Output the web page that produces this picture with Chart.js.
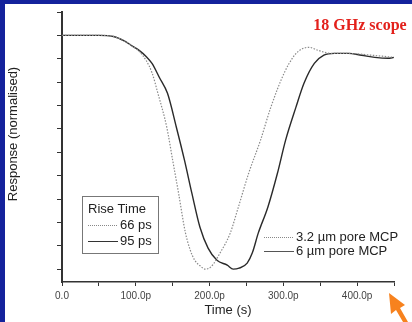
<!DOCTYPE html>
<html>
<head>
<meta charset="utf-8">
<script src="https://cdn.jsdelivr.net/npm/chart.js@4"></script>
<style>
  html, body { margin: 0; padding: 0; background: #fff; }
  #wrap { width: 412px; height: 322px; position: relative; }
</style>
</head>
<body>
<div id="wrap"><canvas id="canvas-scope" width="412" height="322"></canvas></div>
<script>
// time in ps, response normalised (1 = baseline, 0 = pulse minimum)
var poreSmallTime = [0, 50, 70, 85, 95, 105, 114, 122, 130, 142, 150, 158, 167, 174, 180, 188, 194, 202, 214, 228, 239, 253, 269, 283, 301, 314, 324, 335, 347, 365, 387, 420, 450];
var poreSmallResp = [1.0, 1.0, 0.995, 0.975, 0.955, 0.93, 0.893, 0.84, 0.752, 0.607, 0.466, 0.325, 0.16, 0.08, 0.038, 0.012, 0.0, 0.01, 0.068, 0.154, 0.265, 0.41, 0.551, 0.692, 0.838, 0.91, 0.94, 0.949, 0.936, 0.923, 0.923, 0.915, 0.906];
var poreLargeTime = [0, 50, 70, 85, 95, 105, 114, 122, 132, 143, 155, 166, 176, 187, 198, 210, 224, 232, 240, 251, 258, 266, 279, 292, 303, 317, 328, 342, 355, 369, 388, 406, 424, 442, 450];
var poreLargeResp = [1.0, 1.0, 0.995, 0.975, 0.955, 0.935, 0.91, 0.88, 0.82, 0.752, 0.607, 0.466, 0.325, 0.179, 0.09, 0.038, 0.017, 0.0, 0.004, 0.026, 0.07, 0.154, 0.265, 0.41, 0.551, 0.692, 0.795, 0.88, 0.915, 0.923, 0.923, 0.915, 0.906, 0.902, 0.906];

var xTickValues = [0, 50, 100, 150, 200, 250, 300, 350, 400, 450];
var xTickLabels = ['0.0', '', '100.0p', '', '200.0p', '', '300.0p', '', '400.0p', ''];
var yTickValues = [0, 0.1, 0.2, 0.3, 0.4, 0.5, 0.6, 0.7, 0.8, 0.9, 1.0, 1.1];

var seriesNames = ['3.2 \u00b5m pore MCP', '6 \u00b5m pore MCP'];
var riseTimes = ['66 ps', '95 ps'];

var sans = "'Liberation Sans', Arial, sans-serif";

function toPoints(xs, ys) {
    var pts = [];
    for (var i = 0; i < xs.length; i++) pts.push({ x: xs[i], y: ys[i] });
    return pts;
}

var extras = {
    id: 'extras',
    beforeDraw: function (chart) {
        var c = chart.ctx;
        c.save();
        c.fillStyle = '#fff';
        c.fillRect(0, 0, chart.width, chart.height);
        c.fillStyle = '#14229c';
        c.fillRect(0, 0, chart.width, 4);
        c.fillRect(0, 0, 5, chart.height);
        c.restore();
    },
    afterDraw: function (chart) {
        var c = chart.ctx;
        c.save();
        // y axis title
        c.fillStyle = '#222';
        c.font = '13px ' + sans;
        c.textAlign = 'center';
        c.textBaseline = 'middle';
        c.translate(13, 134);
        c.rotate(-Math.PI / 2);
        c.fillText('Response (normalised)', 0, 0);
        c.restore();

        c.save();
        c.fillStyle = '#e3211c';
        c.font = "bold 16px 'Liberation Serif', 'Times New Roman', serif";
        c.textAlign = 'center';
        c.textBaseline = 'alphabetic';
        c.fillText('18 GHz scope', 360, 30);

        // rise time box
        c.strokeStyle = '#777';
        c.lineWidth = 1;
        c.strokeRect(82.5, 196.5, 76, 57);
        c.fillStyle = '#222';
        c.font = '13px ' + sans;
        c.textAlign = 'left';
        c.textBaseline = 'middle';
        c.fillText('Rise Time', 88, 209);
        var rows = [225, 241];
        for (var i = 0; i < 2; i++) {
            c.beginPath();
            c.setLineDash(i === 0 ? [1, 1] : []);
            c.strokeStyle = i === 0 ? '#888' : '#333';
            c.moveTo(88, rows[i] + 0.5); c.lineTo(118, rows[i] + 0.5);
            c.stroke();
            c.fillText(riseTimes[i], 120, rows[i]);
        }
        // series legend
        var rows2 = [237, 251];
        for (var j = 0; j < 2; j++) {
            c.beginPath();
            c.setLineDash(j === 0 ? [1, 1] : []);
            c.strokeStyle = j === 0 ? '#888' : '#555';
            c.moveTo(264, rows2[j] + 0.5); c.lineTo(294, rows2[j] + 0.5);
            c.stroke();
            c.fillText(seriesNames[j], 296, rows2[j]);
        }
        c.setLineDash([]);

        // orange arrow
        c.fillStyle = '#f7821e';
        c.beginPath();
        c.moveTo(389, 293);
        c.lineTo(405, 305);
        c.lineTo(400, 308);
        c.lineTo(408, 322);
        c.lineTo(403, 322);
        c.lineTo(396, 310);
        c.lineTo(391, 314);
        c.closePath();
        c.fill();
        c.restore();
    }
};

var chartScope = new Chart(document.getElementById('canvas-scope').getContext('2d'), {
    type: 'scatter',
    data: {
        datasets: [
            { label: seriesNames[0], data: toPoints(poreSmallTime, poreSmallResp), showLine: true, pointRadius: 0,
              borderColor: '#8a8a8a', borderWidth: 1.2, borderDash: [1.5, 1.5], cubicInterpolationMode: 'monotone' },
            { label: seriesNames[1], data: toPoints(poreLargeTime, poreLargeResp), showLine: true, pointRadius: 0,
              borderColor: '#2a2a2a', borderWidth: 1.4, cubicInterpolationMode: 'monotone' }
        ]
    },
    options: {
        responsive: false, animation: false,
        layout: { padding: { left: 57, top: 12, right: 18, bottom: 0 } },
        plugins: { legend: { display: false }, tooltip: { enabled: false } },
        scales: {
            x: {
                type: 'linear', min: 0, max: 450,
                afterBuildTicks: function (s) { s.ticks = xTickValues.map(function (v) { return { value: v }; }); },
                afterFit: function (s) { s.height = 40; },
                ticks: { autoSkip: false, maxRotation: 0, padding: 4, color: '#444', font: { family: sans, size: 10 },
                         callback: function (v, i) { return xTickLabels[i]; } },
                grid: { drawOnChartArea: false, drawTicks: true, tickLength: 4, color: '#333' },
                border: { display: true, color: '#333', width: 1.5 },
                title: { display: true, text: 'Time (s)', color: '#222', font: { family: sans, size: 13 }, padding: { top: 0, bottom: 4 } }
            },
            y: {
                type: 'linear', min: -0.055, max: 1.1,
                afterBuildTicks: function (s) { s.ticks = yTickValues.map(function (v) { return { value: v }; }); },
                ticks: { display: false },
                grid: { drawOnChartArea: false, drawTicks: true, tickLength: 5, color: '#333' },
                border: { display: true, color: '#333', width: 2 }
            }
        }
    },
    plugins: [extras]
});
</script>
</body>
</html>
